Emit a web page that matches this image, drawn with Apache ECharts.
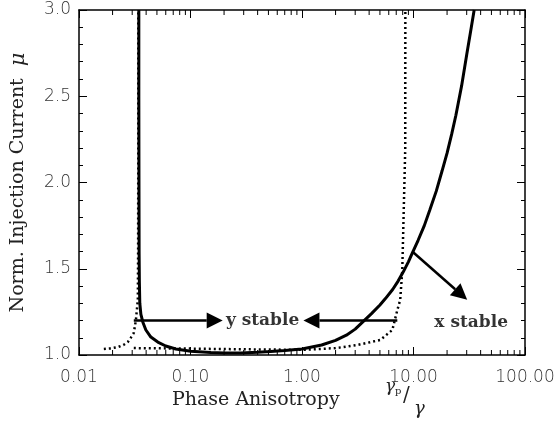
<!DOCTYPE html>
<html>
<head>
<meta charset="utf-8">
<script src="https://cdn.jsdelivr.net/npm/echarts@6/dist/echarts.min.js"></script>
<style>
html,body{margin:0;padding:0;background:#fff;}
#chart{width:560px;height:422px;}
</style>
</head>
<body>
<div id="chart"></div>
<script>
// ---- data (x = phase anisotropy γp/γ, y = normalised injection current μ) ----
var solidCurve = [
  [0.0344,3.0],[0.0344,2.5],[0.0345,2.0],[0.0346,1.6],[0.0348,1.42],[0.0351,1.3],[0.0359,1.235],
  [0.0374,1.19],[0.0398,1.145],[0.0441,1.104],[0.0509,1.075],[0.060,1.052],[0.0738,1.035],
  [0.1005,1.022],[0.152,1.015],[0.2,1.012],[0.282,1.012],[0.4,1.016],[0.523,1.02],[0.7,1.026],
  [1.0,1.035],[1.5,1.058],[2.0,1.085],[2.5,1.115],[3.0,1.15],[3.55,1.195],[4.2,1.24],[5.0,1.29],
  [5.6,1.327],[6.5,1.38],[7.3,1.43],[8.1,1.482],[9.0,1.54],[9.75,1.59],[11,1.665],[12.5,1.75],
  [14,1.84],[16,1.95],[18,2.065],[20,2.17],[22,2.28],[24,2.39],[27,2.56],[30,2.74],[33,2.9],[35,3.0]
];
var dottedLeft = [
  [0.0167,1.035],[0.019,1.038],[0.0223,1.046],[0.025,1.058],[0.0274,1.075],[0.029,1.098],
  [0.031,1.128],[0.0324,1.203],[0.0337,1.32],[0.0339,1.6],[0.034,2.2],[0.034,3.0]
];
var dottedRight = [
  [0.031,1.04],[0.1,1.037],[0.3,1.033],[1.03,1.03],[2.0,1.04],[3.14,1.058],[5.04,1.087],
  [6.46,1.145],[7.16,1.26],[7.6,1.32],[7.93,1.49],[8.09,1.72],[8.43,2.19],[8.45,3.0]
];
// arrows: [x1, y1, x2 (tip), y2 (tip)]
var arrows = [
  [0.031,1.2,0.1945,1.2],
  [7.16,1.2,1.03,1.2],
  [9.75,1.6,30.3,1.32]
];
var annotations = [
  {name:'y stable', value:[0.443,1.2]},
  {name:'x stable', value:[32.9,1.186]}
];

var xMinor = [];
[0.01,0.1,1,10].forEach(function(d){ for (var k=2;k<=9;k++) xMinor.push([d*k]); });

var chart = echarts.init(document.getElementById('chart'), null, {renderer:'canvas'});
var tickFont = {fontFamily:'DejaVu Sans', fontWeight:200, fontSize:17, color:'#333'};

function arrowItem(params, api){
  var p1 = api.coord([api.value(0), api.value(1)]);
  var p2 = api.coord([api.value(2), api.value(3)]);
  var dx = p2[0]-p1[0], dy = p2[1]-p1[1];
  var L = Math.sqrt(dx*dx+dy*dy); var ux = dx/L, uy = dy/L;
  var hl = 16, hw = 8;
  var bx = p2[0]-ux*hl, by = p2[1]-uy*hl;
  return {type:'group', children:[
    {type:'line', shape:{x1:p1[0],y1:p1[1],x2:bx,y2:by}, style:{stroke:'#000', lineWidth:2.5}},
    {type:'polygon', shape:{points:[[p2[0],p2[1]],[bx-uy*hw,by+ux*hw],[bx+uy*hw,by-ux*hw]]}, style:{fill:'#000'}}
  ]};
}
function minorTickItem(params, api){
  var pb = api.coord([api.value(0), 1.0]);
  var pt = api.coord([api.value(0), 3.0]);
  return {type:'group', children:[
    {type:'line', shape:{x1:pb[0],y1:pb[1],x2:pb[0],y2:pb[1]-5}, style:{stroke:'#000', lineWidth:1}},
    {type:'line', shape:{x1:pt[0],y1:pt[1],x2:pt[0],y2:pt[1]+5}, style:{stroke:'#000', lineWidth:1}}
  ]};
}

var option = {
  animation:false,
  backgroundColor:'#fff',
  grid:{left:78, right:35, top:10, bottom:67},
  xAxis:[{
    type:'log', logBase:10, min:0.01, max:100, position:'bottom',
    axisLine:{show:true, onZero:false, lineStyle:{color:'#000', width:1.5}},
    axisTick:{show:true, inside:true, length:8, lineStyle:{color:'#000'}},
    axisLabel:Object.assign({margin:14, formatter:function(v){return Number(v).toFixed(2);}}, tickFont),
    splitLine:{show:false}
  },{
    type:'log', logBase:10, min:0.01, max:100, position:'top',
    axisLine:{show:true, onZero:false, lineStyle:{color:'#000', width:1.5}},
    axisTick:{show:true, inside:true, length:8, lineStyle:{color:'#000'}},
    axisLabel:{show:false}, splitLine:{show:false}
  }],
  yAxis:[{
    type:'value', min:1.0, max:3.0, interval:0.5, position:'left',
    axisLine:{show:true, onZero:false, lineStyle:{color:'#000', width:1.5}},
    axisTick:{show:true, inside:true, length:8, lineStyle:{color:'#000'}},
    minorTick:{show:true, splitNumber:5, length:4, lineStyle:{color:'#000'}},
    axisLabel:Object.assign({margin:8, formatter:function(v){return Number(v).toFixed(1);}}, tickFont),
    splitLine:{show:false},
    name:'Norm. Injection Current  {m|μ}', nameLocation:'middle', nameRotate:90, nameGap:50,
    nameTextStyle:{fontFamily:'DejaVu Serif', fontSize:19, color:'#222',
      rich:{m:{fontFamily:'DejaVu Serif', fontStyle:'italic', fontSize:21, color:'#222'}}}
  },{
    type:'value', min:1.0, max:3.0, interval:0.5, position:'right',
    axisLine:{show:true, onZero:false, lineStyle:{color:'#000', width:1.5}},
    axisTick:{show:true, inside:true, length:8, lineStyle:{color:'#000'}},
    minorTick:{show:true, splitNumber:5, length:4, lineStyle:{color:'#000'}},
    axisLabel:{show:false}, splitLine:{show:false}
  }],
  graphic:[
    {type:'text', left:172, top:391, style:{text:'Phase Anisotropy', font:'19px "DejaVu Serif"', fill:'#222'}},
    {type:'text', left:385, top:378, style:{text:'γ', font:'italic 17px "DejaVu Serif"', fill:'#222'}},
    {type:'text', left:395, top:386, style:{text:'p', font:'10px "DejaVu Serif"', fill:'#222'}},
    {type:'text', left:403, top:386, style:{text:'/', font:'20px "DejaVu Serif"', fill:'#222'}},
    {type:'text', left:414, top:400, style:{text:'γ', font:'italic 18px "DejaVu Serif"', fill:'#222'}}
  ],
  series:[
    {type:'line', data:solidCurve, showSymbol:false, symbol:'none', lineStyle:{color:'#000', width:3}, z:5},
    {type:'line', data:dottedLeft, showSymbol:false, symbol:'none', lineStyle:{color:'#000', width:2.5, type:[2,3]}, z:4},
    {type:'line', data:dottedRight, showSymbol:false, symbol:'none', lineStyle:{color:'#000', width:2.5, type:[2,3]}, z:4},
    {type:'custom', data:arrows, renderItem:arrowItem, encode:{x:[0,2], y:[1,3]}, z:6, clip:false},
    {type:'custom', data:xMinor, renderItem:minorTickItem, encode:{x:0}, z:3, clip:false},
    {type:'scatter', data:annotations, symbolSize:0, z:7,
      label:{show:true, position:'inside', formatter:'{b}', fontFamily:'DejaVu Serif', fontWeight:'bold', fontSize:17, color:'#000'}}
  ]
};
chart.setOption(option);
</script>
</body>
</html>
